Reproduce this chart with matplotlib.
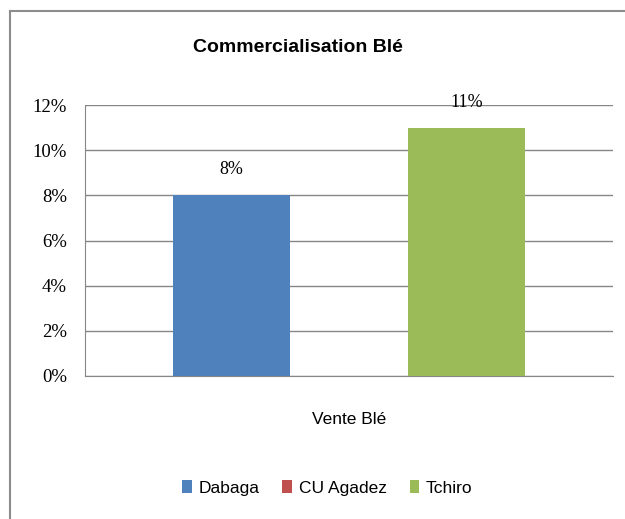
import numpy as np
import matplotlib
matplotlib.use('Agg')
from matplotlib import pyplot as plt
from matplotlib.lines import Line2D
from matplotlib.ticker import PercentFormatter

series = ['Dabaga', 'CU Agadez', 'Tchiro']
values = [0.08, np.nan, 0.11]     # CU Agadez n'a pas de valeur
colors = ['#4F81BD', '#C0504D', '#9BBB59']
category = 'Vente Blé'
yticks = [0, 0.02, 0.04, 0.06, 0.08, 0.10, 0.12]

sans = ['Liberation Sans', 'DejaVu Sans']
serif = ['Liberation Serif', 'DejaVu Serif']

fig = plt.figure(figsize=(6.25, 5.19), dpi=100)
ax = fig.add_axes([85/625, 1-376/519, 528/625, 271/519])

w = 1/4.5
for i, (name, v, c) in enumerate(zip(series, values, colors)):
    x = (i - 1) * w
    h = 0 if np.isnan(v) else v
    ax.bar(x, h, width=w, color=c, label=name, zorder=3)
    if not np.isnan(v):
        ax.text(x, v + 0.0075, '%d%%' % round(v*100), ha='center', va='bottom',
                family=serif, fontsize=13)

ax.set_xlim(-0.5, 0.5)
ax.set_ylim(0, 0.12)
ax.set_yticks(yticks)
ax.yaxis.set_major_formatter(PercentFormatter(1, decimals=0))
for lab in ax.get_yticklabels():
    lab.set_family(serif)
    lab.set_fontsize(13.5)
ax.tick_params(axis='y', length=0, pad=13)
ax.set_xticks([0])
ax.set_xticklabels([category], family=sans, fontsize=12.5)
ax.tick_params(axis='x', length=0, pad=26)
ax.grid(axis='y', color='#868686', lw=1, zorder=1)
for s in ['top', 'right']:
    ax.spines[s].set_visible(False)
for s in ['left', 'bottom']:
    ax.spines[s].set_color('#868686')

fig.text(0.477, 1-47/519, 'Commercialisation Blé', ha='center', va='center',
         family=sans, fontsize=14, fontweight='bold')

leg = fig.legend(loc='center', bbox_to_anchor=(0.524, 1-488/519), ncol=3,
                 frameon=False, handlelength=0.55, handleheight=0.8,
                 handletextpad=0.4, columnspacing=1.3,
                 prop={'family': sans, 'size': 12.5})

# cadre du graphique
fig.add_artist(Line2D([10/625, 1], [1-11/519, 1-11/519], color='#8c8c8c', lw=1.5))
fig.add_artist(Line2D([10/625, 10/625], [0, 1-11/519], color='#8c8c8c', lw=1.5))

fig.savefig('out.png', dpi=100)
